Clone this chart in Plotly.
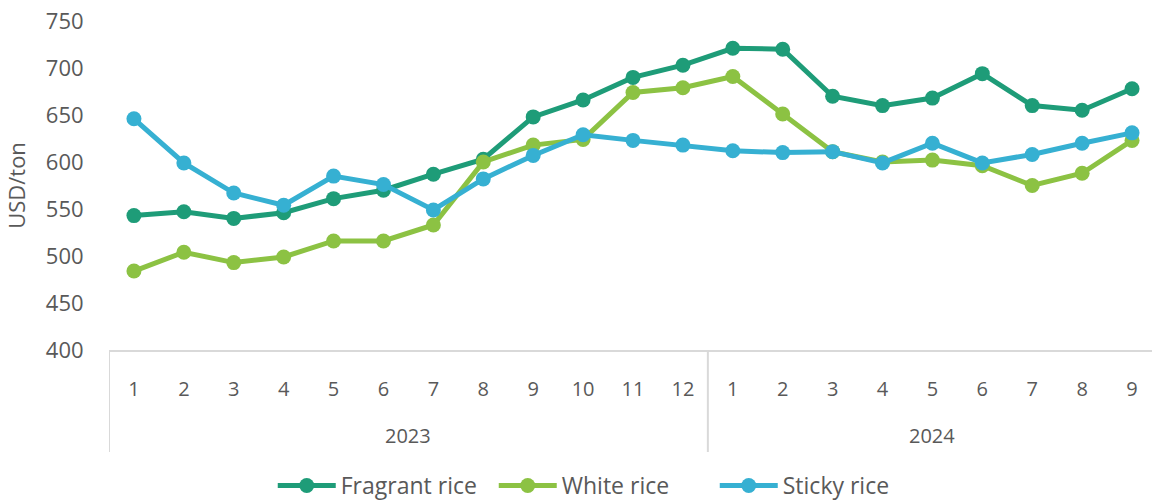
import plotly.graph_objects as go

years = ["2023", "2024"]
year_counts = [12, 9]
months = [str(m) for m in range(1, 13)] + [str(m) for m in range(1, 10)]

fragrant = [543, 547, 540, 546, 561, 570, 587, 603, 648, 666, 690, 703,
            721, 720, 670, 660, 668, 694, 660, 655, 678]
white = [484, 504, 493, 499, 516, 516, 533, 600, 618, 624, 674, 679,
         691, 651, 611, 600, 602, 596, 575, 588, 623]
sticky = [646, 599, 567, 554, 585, 576, 549, 582, 607, 629, 623, 618,
          612, 610, 611, 599, 620, 599, 608, 620, 631]

series = [("Fragrant rice", fragrant, "#1E9C78"),
          ("White rice", white, "#8CC243"),
          ("Sticky rice", sticky, "#36B0D2")]

idx = list(range(len(months)))

fig = go.Figure()
for name, vals, col in series:
    fig.add_trace(go.Scatter(
        x=idx, y=vals, name=name, mode="lines+markers",
        line=dict(color=col, width=5),
        marker=dict(color=col, size=15),
    ))

GRAY = "#595959"
LINE = "#d9d9d9"

start = 0
shapes = []
annotations = []
for yr, n in zip(years, year_counts):
    center = start + (n - 1) / 2
    annotations.append(dict(x=center, xref="x", y=-0.261, yref="paper",
                            text=yr, showarrow=False, yanchor="middle",
                            font=dict(size=20, color=GRAY, family="Open Sans")))
    shapes.append(dict(type="line", xref="x", yref="paper",
                       x0=start - 0.5, x1=start - 0.5, y0=0, y1=-0.31,
                       line=dict(color=LINE, width=2)))
    start += n

fig.update_layout(
    width=1152, height=502,
    margin=dict(l=109, r=0, t=21, b=152, autoexpand=False),
    paper_bgcolor="white", plot_bgcolor="white",
    font=dict(family="Open Sans", color=GRAY),
    showlegend=True,
    legend=dict(orientation="h", x=0.157, xanchor="left", y=-0.412, yanchor="middle",
                font=dict(size=23, family="Open Sans", color=GRAY),
                traceorder="normal", entrywidth=148, itemwidth=58),
    shapes=shapes, annotations=annotations,
)
fig.update_xaxes(
    range=[-0.5, 20.4], tickmode="array", tickvals=idx, ticktext=months,
    showline=True, linecolor=LINE, linewidth=2,
    tickfont=dict(size=20, family="Open Sans", color=GRAY),
    showgrid=False, zeroline=False, ticks="outside", ticklen=0, ticklabelstandoff=20,
    automargin=False,
)
fig.update_yaxes(
    range=[400, 750], dtick=50, showgrid=False, zeroline=False, showline=False,
    tickfont=dict(size=22, color=GRAY),
    ticks="outside", ticklen=0, ticklabelstandoff=20,
    title=dict(text="USD/ton", font=dict(size=22, color=GRAY), standoff=14),
    automargin=False,
)

fig.write_html(
    "out.html",
    config={"displayModeBar": False},
    post_script="document.body.style.margin='0';document.body.style.overflow='hidden';",
)
